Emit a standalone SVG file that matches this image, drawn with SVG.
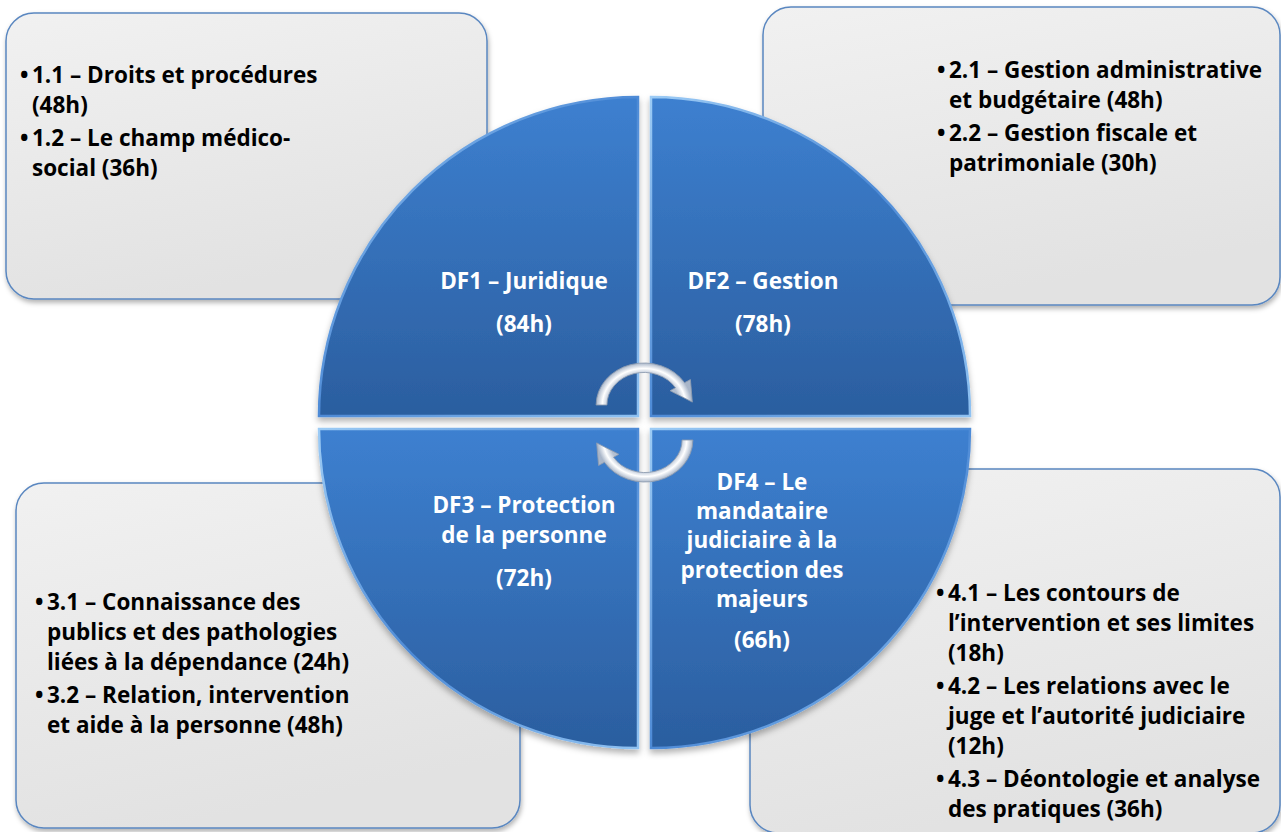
<svg xmlns="http://www.w3.org/2000/svg" width="1281" height="832" viewBox="0 0 1281 832">
<defs>
<linearGradient id="boxGrad" x1="0" y1="0" x2="0.3" y2="1">
<stop offset="0" stop-color="#f1f1f1"/>
<stop offset="1" stop-color="#e2e2e2"/>
</linearGradient>
<linearGradient id="quadGrad" x1="0" y1="0" x2="0" y2="1">
<stop offset="0" stop-color="#3d80d0"/>
<stop offset="1" stop-color="#2b5e9f"/>
</linearGradient>
<linearGradient id="bevel" x1="0" y1="0" x2="1" y2="1">
<stop offset="0" stop-color="#9ccbf5"/>
<stop offset="0.5" stop-color="#4d8ad6"/>
<stop offset="1" stop-color="#8fc2f2"/>
</linearGradient>
<radialGradient id="arrowGrad" gradientUnits="userSpaceOnUse" cx="0" cy="0" r="42">
<stop offset="0.74" stop-color="#b3bfd1"/>
<stop offset="0.87" stop-color="#ffffff"/>
<stop offset="1" stop-color="#a9b6c9"/>
</radialGradient>
<filter id="shadow" x="-5%" y="-5%" width="112%" height="115%">
<feDropShadow dx="1" dy="3" stdDeviation="2.5" flood-color="#000" flood-opacity="0.3"/>
</filter>
<filter id="qshadow" x="-5%" y="-5%" width="115%" height="115%">
<feDropShadow dx="0" dy="4" stdDeviation="3" flood-color="#000" flood-opacity="0.3"/>
</filter>
<style>
.box { fill: url(#boxGrad); stroke: #5a87c0; stroke-width: 1.5; filter: url(#shadow); }
.quad { fill: url(#quadGrad); stroke: url(#bevel); stroke-width: 2.5; filter: url(#qshadow); }
.bt { font-family: "Open Sans", "Noto Sans", sans-serif; font-weight: 700; font-size: 22.5px; fill: #000; }
.qt { font-family: "Open Sans", "Noto Sans", sans-serif; font-weight: 700; font-size: 22.5px; fill: #fff; text-anchor: middle; }
.arrow { fill: url(#arrowGrad); stroke: #8e9bb0; stroke-width: 0.8; }
</style>
</defs>
<rect width="1281" height="832" fill="#fff"/>

<g id="box-df1">
<rect class="box" x="6" y="13" width="481" height="286" rx="28"/>
<text class="bt" y="83"><tspan x="20">•</tspan><tspan x="32">1.1 – Droits et procédures</tspan></text>
<text class="bt" x="32" y="113">(48h)</text>
<text class="bt" y="146"><tspan x="20">•</tspan><tspan x="32">1.2 – Le champ médico-</tspan></text>
<text class="bt" x="32" y="176">social (36h)</text>
</g>

<g id="box-df2">
<rect class="box" x="763" y="7" width="517" height="298" rx="28"/>
<text class="bt" y="78"><tspan x="937">•</tspan><tspan x="949">2.1 – Gestion administrative</tspan></text>
<text class="bt" x="949" y="108">et budgétaire (48h)</text>
<text class="bt" y="141"><tspan x="937">•</tspan><tspan x="949">2.2 – Gestion fiscale et</tspan></text>
<text class="bt" x="949" y="171">patrimoniale (30h)</text>
</g>

<g id="box-df3">
<rect class="box" x="16" y="483" width="504" height="345" rx="28"/>
<text class="bt" y="610"><tspan x="35">•</tspan><tspan x="47">3.1 – Connaissance des</tspan></text>
<text class="bt" x="47" y="640">publics et des pathologies</text>
<text class="bt" x="47" y="670">liées à la dépendance (24h)</text>
<text class="bt" y="703"><tspan x="35">•</tspan><tspan x="47">3.2 – Relation, intervention</tspan></text>
<text class="bt" x="47" y="733">et aide à la personne (48h)</text>
</g>

<g id="box-df4">
<rect class="box" x="750" y="469" width="530" height="364" rx="28"/>
<text class="bt" y="601"><tspan x="936">•</tspan><tspan x="948">4.1 – Les contours de</tspan></text>
<text class="bt" x="948" y="631">l’intervention et ses limites</text>
<text class="bt" x="948" y="661">(18h)</text>
<text class="bt" y="694"><tspan x="936">•</tspan><tspan x="948">4.2 – Les relations avec le</tspan></text>
<text class="bt" x="948" y="724">juge et l’autorité judiciaire</text>
<text class="bt" x="948" y="754">(12h)</text>
<text class="bt" y="787"><tspan x="936">•</tspan><tspan x="948">4.3 – Déontologie et analyse</tspan></text>
<text class="bt" x="948" y="817">des pratiques (36h)</text>
</g>

<g id="df1">
<path class="quad" d="M 638 416 L 319 416 A 319 319 0 0 1 638 97 Z"/>
<text class="qt" x="524" y="289">DF1 – Juridique</text>
<text class="qt" x="524" y="332">(84h)</text>
</g>

<g id="df2">
<path class="quad" d="M 651 416 L 651 97 A 319 319 0 0 1 970 416 Z"/>
<text class="qt" x="763" y="289">DF2 – Gestion</text>
<text class="qt" x="763" y="332">(78h)</text>
</g>

<g id="df3">
<path class="quad" d="M 638 429 L 638 748 A 319 319 0 0 1 319 429 Z"/>
<text class="qt" x="524" y="513">DF3 – Protection</text>
<text class="qt" x="524" y="543">de la personne</text>
<text class="qt" x="524" y="586">(72h)</text>
</g>

<g id="df4">
<path class="quad" d="M 651 429 L 970 429 A 319 319 0 0 1 651 748 Z"/>
<text class="qt" x="762" y="490">DF4 – Le</text>
<text class="qt" x="762" y="519">mandataire</text>
<text class="qt" x="762" y="548">judiciaire à la</text>
<text class="qt" x="762" y="578">protection des</text>
<text class="qt" x="762" y="607">majeurs</text>
<text class="qt" x="762" y="648">(66h)</text>
</g>

<g id="connectors">
<g transform="translate(644,405) scale(1.14,1)">
<path class="arrow" d="M -42 0 A 42 42 0 0 1 35.6 -22.3 L 40.7 -25.4 L 42.4 -2.9 L 22.9 -14.3 L 27.6 -17.2 A 32.5 32.5 0 0 0 -32.5 0 Z"/>
</g>
<g transform="rotate(180 644.5 422.5) translate(644,405) scale(1.14,1)">
<path class="arrow" d="M -42 0 A 42 42 0 0 1 35.6 -22.3 L 40.7 -25.4 L 42.4 -2.9 L 22.9 -14.3 L 27.6 -17.2 A 32.5 32.5 0 0 0 -32.5 0 Z"/>
</g>
</g>
</svg>
